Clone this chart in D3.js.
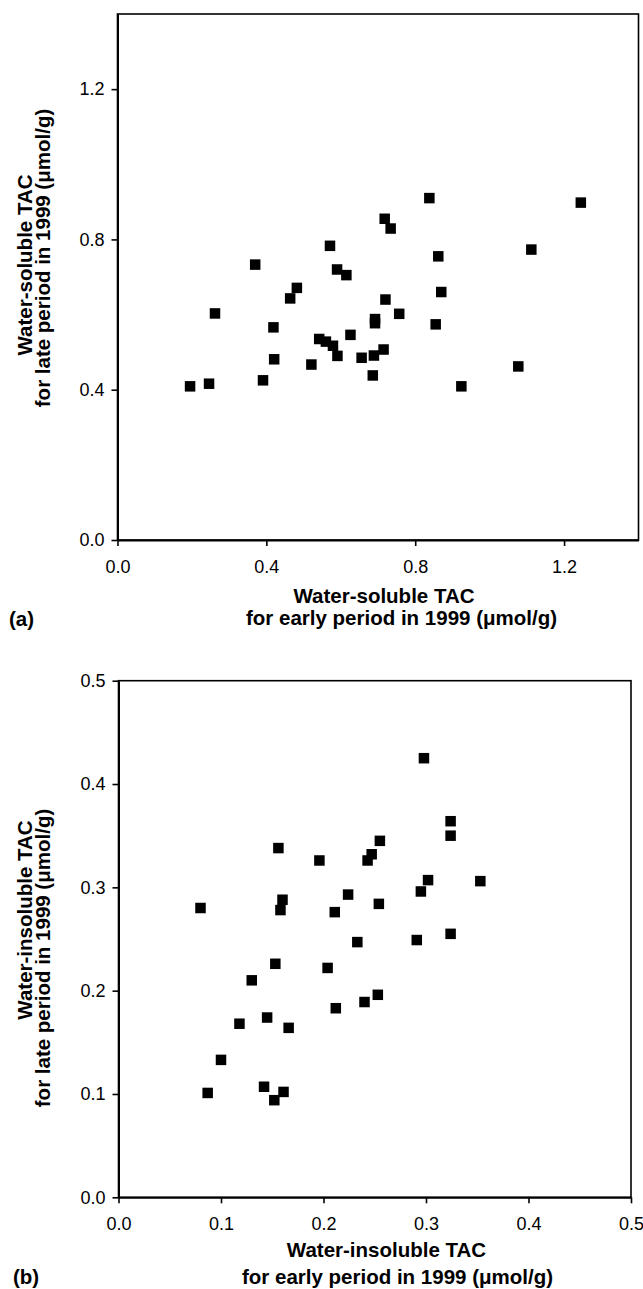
<!DOCTYPE html>
<html lang="en">

<head>
  <meta charset="UTF-8" />
  <title>TAC early vs late 1999</title>
  <script src="https://d3js.org/d3.v7.min.js"></script>
  <style>
    body {
      margin: 0;
      background: white;
    }

    svg text {
      font-family: "Liberation Sans", Arial, sans-serif;
      fill: black;
    }

    .tick text {
      font-size: 18px;
    }

    .title {
      font-size: 20.5px;
      font-weight: bold;
    }
  </style>
</head>

<body>
  <script>
    // panel (a) water-soluble TAC, early vs late period (umol/g)
    const aEarly = [0.838, 1.245, 0.718, 0.734, 0.571, 0.370, 1.112, 0.862, 0.590, 0.615, 0.482, 0.464,
      0.870, 0.720, 0.262, 0.757, 0.692, 0.692, 0.855, 0.419, 0.626, 0.542, 0.560, 0.579,
      0.591, 0.656, 0.689, 0.715, 0.421, 0.521, 0.686, 0.391, 1.077, 0.246, 0.195, 0.924];
    const aLate = [0.910, 0.898, 0.855, 0.829, 0.783, 0.733, 0.773, 0.755, 0.720, 0.705, 0.671, 0.643,
      0.660, 0.640, 0.603, 0.602, 0.588, 0.577, 0.574, 0.566, 0.546, 0.535, 0.528, 0.517,
      0.490, 0.485, 0.491, 0.507, 0.481, 0.467, 0.438, 0.425, 0.462, 0.416, 0.409, 0.409];
    const aTicks = [0, 0.4, 0.8, 1.2];

    // panel (b) water-insoluble TAC
    const bEarly = [0.298, 0.324, 0.324, 0.255, 0.156, 0.247, 0.196, 0.243, 0.302, 0.353, 0.295, 0.224,
      0.160, 0.080, 0.158, 0.254, 0.211, 0.324, 0.291, 0.233, 0.153, 0.204, 0.130, 0.253,
      0.240, 0.212, 0.145, 0.118, 0.166, 0.100, 0.142, 0.087, 0.161, 0.152];
    const bLate = [0.425, 0.364, 0.350, 0.345, 0.338, 0.332, 0.326, 0.326, 0.307, 0.306, 0.296, 0.293,
      0.288, 0.280, 0.278, 0.284, 0.276, 0.255, 0.249, 0.247, 0.226, 0.222, 0.210, 0.196,
      0.189, 0.183, 0.174, 0.168, 0.164, 0.133, 0.107, 0.101, 0.102, 0.094];
    const bTicks = [0, 0.1, 0.2, 0.3, 0.4, 0.5];

    const width = 643, height = 1289;
    const svg = d3.select('body').append('svg')
      .attr('width', width)
      .attr('height', height);

    const fmt = d3.format('.1f');
    const marker = 10.5;

    function drawPanel(cfg) {
      const x = d3.scaleLinear().domain(cfg.domain).range([cfg.left, cfg.right]);
      const y = d3.scaleLinear().domain(cfg.domain).range([cfg.bottom, cfg.top]);
      const g = svg.append('g');

      // plot frame
      g.append('rect')
        .attr('x', cfg.left)
        .attr('y', cfg.top)
        .attr('width', cfg.right - cfg.left)
        .attr('height', cfg.bottom - cfg.top)
        .attr('fill', 'none')
        .attr('stroke', 'black')
        .attr('stroke-width', 1.6);

      const xAxis = g.append('g')
        .attr('transform', `translate(0,${cfg.bottom})`)
        .call(d3.axisBottom(x).tickValues(cfg.ticks).tickFormat(fmt).tickSize(6).tickSizeOuter(0).tickPadding(14));
      const yAxis = g.append('g')
        .attr('transform', `translate(${cfg.left},0)`)
        .call(d3.axisLeft(y).tickValues(cfg.ticks).tickFormat(fmt).tickSize(6).tickSizeOuter(0).tickPadding(7));
      [xAxis, yAxis].forEach(ax => {
        ax.attr('font-family', null).attr('font-size', null);
        ax.selectAll('.domain').attr('stroke-width', 2);
        ax.selectAll('.tick line').attr('stroke-width', 1.6);
      });

      // points
      g.selectAll('rect.pt')
        .data(cfg.xs.map((v, i) => [v, cfg.ys[i]]))
        .join('rect')
        .attr('class', 'pt')
        .attr('x', d => x(d[0]) - marker / 2)
        .attr('y', d => y(d[1]) - marker / 2)
        .attr('width', marker)
        .attr('height', marker)
        .attr('fill', 'black');

      // axis titles
      g.append('text').attr('class', 'title')
        .attr('transform', `translate(32,${cfg.yt1}) rotate(-90)`)
        .attr('text-anchor', 'middle')
        .text(cfg.yTitle[0]);
      g.append('text').attr('class', 'title')
        .attr('transform', `translate(50,${cfg.yt2}) rotate(-90)`)
        .attr('text-anchor', 'middle')
        .text(cfg.yTitle[1]);
      g.append('text').attr('class', 'title')
        .attr('x', cfg.xt1[0]).attr('y', cfg.xt1[1])
        .attr('text-anchor', 'middle')
        .text(cfg.xTitle[0]);
      g.append('text').attr('class', 'title')
        .attr('x', cfg.xt2[0]).attr('y', cfg.xt2[1])
        .attr('text-anchor', 'middle')
        .text(cfg.xTitle[1]);
      g.append('text').attr('class', 'title')
        .attr('x', cfg.tag[0]).attr('y', cfg.tag[1])
        .text(cfg.label);
    }

    drawPanel({
      xs: aEarly, ys: aLate, ticks: aTicks, domain: [0, 1.4],
      left: 117.5, right: 638.5, top: 14, bottom: 540,
      yTitle: ['Water-soluble TAC', 'for late period in 1999 (μmol/g)'],
      xTitle: ['Water-soluble TAC', 'for early period in 1999 (μmol/g)'],
      yt1: 265, yt2: 258, xt1: [384, 603], xt2: [401.5, 625], tag: [9, 626], label: '(a)'
    });

    drawPanel({
      xs: bEarly, ys: bLate, ticks: bTicks, domain: [0, 0.5],
      left: 118.5, right: 631, top: 680.7, bottom: 1197.3,
      yTitle: ['Water-insoluble TAC', 'for late period in 1999 (μmol/g)'],
      xTitle: ['Water-insoluble TAC', 'for early period in 1999 (μmol/g)'],
      yt1: 920, yt2: 958, xt1: [386.5, 1257], xt2: [397.5, 1284], tag: [13, 1284], label: '(b)'
    });
  </script>
</body>

</html>
